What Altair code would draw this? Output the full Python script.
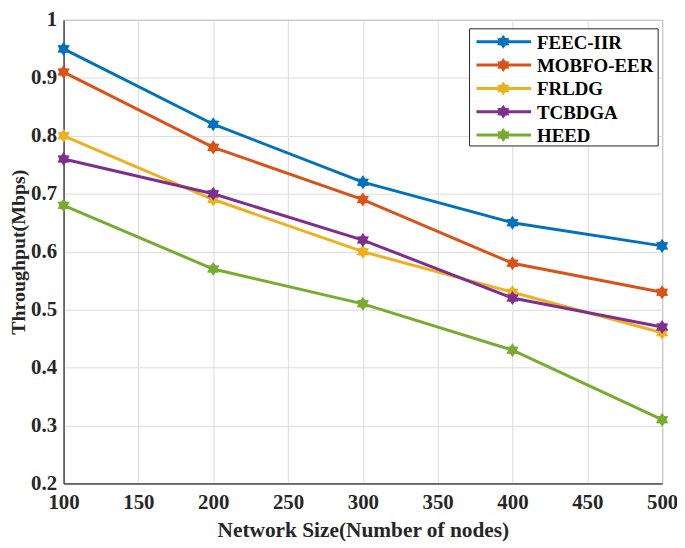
import math
import altair as alt
import pandas as pd

nodes = [100, 200, 300, 400, 500]
series = ["FEEC-IIR", "MOBFO-EER", "FRLDG", "TCBDGA", "HEED"]
feec = [0.95, 0.82, 0.72, 0.65, 0.61]
mobfo = [0.91, 0.78, 0.69, 0.58, 0.53]
frldg = [0.80, 0.69, 0.60, 0.53, 0.46]
tcbdga = [0.76, 0.70, 0.62, 0.52, 0.47]
heed = [0.68, 0.57, 0.51, 0.43, 0.31]
colors = ["#0072BD", "#D95319", "#EDB120", "#7E2F8E", "#77AC30"]

rows = []
for si, (name, vals) in enumerate(zip(series, [feec, mobfo, frldg, tcbdga, heed])):
    for n, v in zip(nodes, vals):
        rows.append({"nodes": n, "throughput": v, "method": name, "idx": si})
df = pd.DataFrame(rows)
legend_df = pd.DataFrame({"method": series, "idx": list(range(len(series)))})
box_df = pd.DataFrame({"k": [0]})


def star_path(r_out, r_in):
    pts = []
    for k in range(12):
        ang = math.radians(90 + 30 * k)
        r = r_out if k % 2 == 0 else r_in
        pts.append((r * math.cos(ang), -r * math.sin(ang)))
    return "M" + "L".join(f"{x:.3f},{y:.3f}" for x, y in pts) + "Z"


hexagram = star_path(1.0, 0.62)

FONT = "Liberation Serif"

x_enc = alt.X(
    "nodes:Q",
    scale=alt.Scale(domain=[100, 500], nice=False),
    axis=alt.Axis(values=list(range(100, 501, 50)), title="Network Size(Number of nodes)",
                  labelFlush=False, titleFontSize=21.5),
)
y_scale = alt.Scale(domain=[0.2, 1.0], nice=False)
y_enc = alt.Y(
    "throughput:Q",
    scale=y_scale,
    axis=alt.Axis(values=[0.2, 0.3, 0.4, 0.5, 0.6, 0.7, 0.8, 0.9, 1.0], format=".1~f",
                  title="Throughput(Mbps)", labelFlush=False),
)
cscale = alt.Scale(domain=series, range=colors)
color_enc = alt.Color("method:N", scale=cscale, sort=series, legend=None)

lines = alt.Chart(df).mark_line(strokeWidth=3).encode(
    x=x_enc, y=y_enc, color=color_enc, order=alt.Order("nodes:Q"),
)

points = alt.Chart(df).mark_point(filled=True, shape=hexagram, size=200, opacity=1).encode(
    x=x_enc,
    y=alt.Y("throughput:Q", scale=y_scale, axis=None),
    color=color_enc,
    order=alt.Order("idx:Q"),
)

# legend (drawn as layers, positioned in pixels inside the plot)
row_y = alt.Y("idx:Q", scale=alt.Scale(domain=[0, 4], range=[22, 116]), axis=None)

leg_box = alt.Chart(box_df).mark_rect(fill="white", stroke="#262626", strokeWidth=1).encode(
    x=alt.value(409), x2=alt.value(599), y=alt.value(9), y2=alt.value(127),
)
leg_lines = alt.Chart(legend_df).mark_rule(strokeWidth=3).encode(
    x=alt.value(416), x2=alt.value(471), y=row_y, color=color_enc,
)
leg_pts = alt.Chart(legend_df).mark_point(filled=True, shape=hexagram, size=200, opacity=1).encode(
    x=alt.value(443), y=row_y, color=color_enc,
)
leg_text = alt.Chart(legend_df).mark_text(
    align="left", baseline="middle", font=FONT, fontWeight="bold", fontSize=19, color="black", dy=1,
).encode(
    x=alt.value(477), y=row_y, text="method:N",
)

chart = (
    alt.layer(lines, points, leg_box, leg_lines, leg_pts, leg_text)
    .resolve_scale(y="independent")
    .properties(
        width=603,
        height=467,
        autosize=alt.AutoSizeParams(type="none"),
        padding={"left": 56, "top": 10, "right": 15, "bottom": 58},
    )
    .configure_view(stroke="#262626", strokeWidth=1)
    .configure_axis(
        labelFont=FONT,
        labelFontWeight="bold",
        labelFontSize=21,
        labelColor="#262626",
        titleFont=FONT,
        titleFontWeight="bold",
        titleFontSize=20,
        titleColor="#262626",
        domainColor="#262626",
        ticks=False,
        gridColor="#dcdcdc",
        gridWidth=1,
    )
    .configure_axisX(titlePadding=7, labelPadding=8)
    .configure_axisY(titlePadding=2, labelPadding=7)
)

chart.save("out.html", embed_options={"renderer": "svg", "actions": False})
